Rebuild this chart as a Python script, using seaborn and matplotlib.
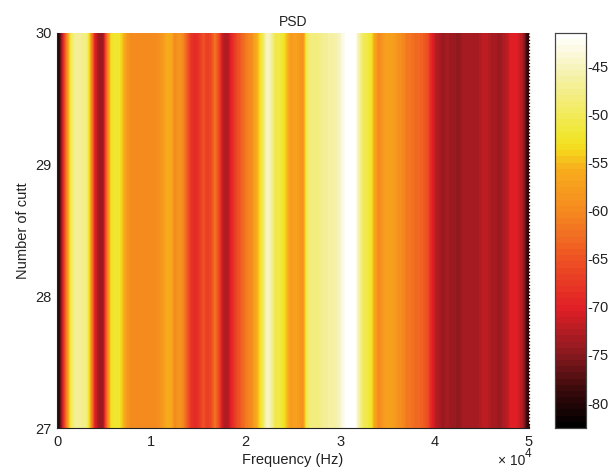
import matplotlib
matplotlib.use("Agg")
import matplotlib.pyplot as plt
import numpy as np
import pandas as pd
import seaborn as sns

sns.set_style("white")
plt.rcParams["font.family"] = ["Liberation Sans", "DejaVu Sans"]

# PSD (dB) per frequency bin, 0 to 50 kHz
psd_db = [
    -80,-70,-60,-50,-47,-47,-47.5,-48,-58,-70,-74,-74,-62,-53,-52,-52,-55,-58,-60,-60,
    -60,-60,-60,-60,-60,-59,-58,-56,-56,-60,-58,-60,-64,-68,-69,-68,-65,-67,-66,-62,
    -66,-72,-73,-70,-67,-65,-63,-61,-60,-57,-54,-50,-44,-46,-51,-51,-52,-55,-58,-57,
    -58,-59,-50,-48,-48,-48,-47,-47,-46,-46,-45,-43,-41.5,-41.5,-41.5,-46,-50,-51,-52,-57,
    -60,-58,-57,-57,-58,-59,-60,-62,-62,-63,-63,-64,-65,-69,-72,-73,-74,-73,-74,-74,
    -75,-73,-73,-73,-73,-73,-72,-72,-73,-73,-74,-73,-72,-70,-70,-71,-73,-79,
]
cutt_rows = [29.5, 28.5, 27.5]
freq_ticks = [0, 1, 2, 3, 4, 5]
cutt_ticks = [30, 29, 28, 27]
cbar_ticks = [-80, -75, -70, -65, -60, -55, -50, -45]
vmin, vmax = -82.6, -41.5
title = "PSD"
xlabel = "Frequency (Hz)"
ylabel = "Number of cutt"

stops = [
    (0.00, "#000000"), (0.09, "#3a0a0c"), (0.19, "#8e1a20"), (0.30, "#e01f26"),
    (0.42, "#ee4f24"), (0.54, "#f5861f"), (0.66, "#f7ae1c"), (0.705, "#f6d81c"),
    (0.74, "#f0e62c"), (0.91, "#f6f2b4"), (1.00, "#ffffff"),
]
cmap = matplotlib.colors.LinearSegmentedColormap.from_list("psd", stops, N=64)

frame = pd.DataFrame([psd_db] * len(cutt_rows), index=cutt_rows)
n_bins = frame.shape[1]
n_rows = frame.shape[0]

fig = plt.figure(figsize=(6.11, 4.68), dpi=100)
W, H = 611, 468
ax = fig.add_axes([57 / W, (H - 428) / H, 472 / W, 395 / H])
cax = fig.add_axes([555 / W, (H - 428) / H, 31 / W, 395 / H])

sns.heatmap(frame, ax=ax, cbar_ax=cax, cmap=cmap, vmin=vmin, vmax=vmax,
            xticklabels=False, yticklabels=False, linewidths=0, rasterized=True)
# smooth rendering of the same table over the heatmap cells
ax.imshow(frame.to_numpy(), cmap=cmap, vmin=vmin, vmax=vmax, aspect="auto",
          interpolation="bilinear", extent=(0, n_bins, n_rows, 0), zorder=2)
ax.set_xlim(0, n_bins)
ax.set_ylim(n_rows, 0)

col = "#222222"
ax.set_xticks([t / 5 * n_bins for t in freq_ticks])
ax.set_xticklabels([str(t) for t in freq_ticks], rotation=0)
ax.set_yticks(np.arange(len(cutt_ticks)))
ax.set_yticklabels([str(t) for t in cutt_ticks], rotation=0)
ax.tick_params(axis="both", direction="in", length=3, width=0.6, labelsize=10.5,
               colors=col, bottom=True, left=True)
ax.tick_params(axis="x", pad=5)
ax.tick_params(axis="y", pad=4)
ax.set_title(title, fontsize=10, color=col, pad=5)
ax.set_xlabel(xlabel, fontsize=10.5, color=col, labelpad=3)
ax.set_ylabel(ylabel, fontsize=10.5, color=col, labelpad=4)
ax.axvline(n_bins, color="black", lw=0.9, ls=":", clip_on=False, zorder=5)
for side in ("left", "bottom"):
    ax.spines[side].set_visible(True)
    ax.spines[side].set_linewidth(0.8)
    ax.spines[side].set_color(col)
    ax.spines[side].set_zorder(6)

ax.text(0.992, -0.083, "× 10", transform=ax.transAxes, fontsize=10, color=col,
        ha="right", va="center")
ax.text(0.997, -0.066, "4", transform=ax.transAxes, fontsize=8.5, color=col,
        ha="center", va="center")

cax.set_yticks(cbar_ticks)
cax.set_yticklabels([str(t) for t in cbar_ticks])
cax.tick_params(axis="y", direction="in", length=3, width=0.8, labelsize=10.5,
                colors=col, pad=1, right=True, left=True)
for s in cax.spines.values():
    s.set_visible(True)
    s.set_linewidth(0.8)
    s.set_color("#444444")

fig.savefig("out.png", dpi=100)
